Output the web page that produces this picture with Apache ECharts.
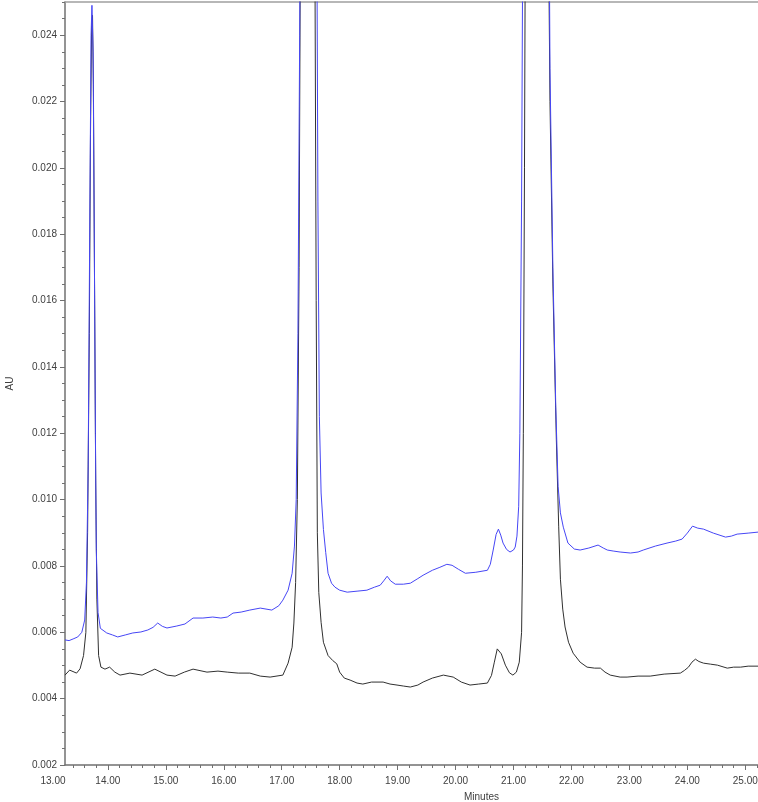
<!DOCTYPE html>
<html>
<head>
<meta charset="utf-8">
<script src="https://cdn.jsdelivr.net/npm/echarts@6/dist/echarts.min.js"></script>
<style>
  html, body { margin: 0; padding: 0; background: #fff; }
  #main { width: 758px; height: 802px; }
</style>
</head>
<body>
<div id="main"></div>
<script>
// x range (minutes) and y range (AU)
const X_MIN = 13.26;
const X_MAX = 25.22;
const Y_MIN = 0.002;
const Y_MAX = 0.025;

// tick labels
const xLabelValues = [X_MIN, 14, 15, 16, 17, 18, 19, 20, 21, 22, 23, 24, 25];
const xLabelTexts = ["13.00", "14.00", "15.00", "16.00", "17.00", "18.00", "19.00", "20.00", "21.00", "22.00", "23.00", "24.00", "25.00"];
const yLabelValues = [0.002, 0.004, 0.006, 0.008, 0.010, 0.012, 0.014, 0.016, 0.018, 0.020, 0.022, 0.024];

// black trace (lower)
const blackTime = [13.26, 13.34, 13.46, 13.52, 13.58, 13.62, 13.65, 13.68, 13.70, 13.72, 13.735, 13.75, 13.77, 13.79, 13.81, 13.84, 13.88, 13.95, 14.03, 14.12, 14.21, 14.38, 14.59, 14.81, 15.02, 15.16, 15.32, 15.47, 15.71, 15.90, 16.06, 16.25, 16.45, 16.63, 16.80, 17.02, 17.11, 17.18, 17.21, 17.24, 17.27, 17.30, 17.32, 17.36, 17.45, 17.53, 17.57, 17.595, 17.615, 17.64, 17.68, 17.72, 17.80, 17.88, 17.95, 18.00, 18.08, 18.18, 18.30, 18.40, 18.55, 18.75, 18.87, 18.99, 19.10, 19.22, 19.35, 19.44, 19.60, 19.79, 19.96, 20.10, 20.25, 20.40, 20.55, 20.62, 20.67, 20.72, 20.75, 20.79, 20.86, 20.93, 20.99, 21.05, 21.10, 21.14, 21.155, 21.17, 21.19, 21.21, 21.30, 21.45, 21.55, 21.59, 21.63, 21.68, 21.74, 21.78, 21.81, 21.85, 21.89, 21.95, 22.03, 22.15, 22.27, 22.40, 22.50, 22.58, 22.67, 22.84, 22.96, 23.15, 23.36, 23.60, 23.88, 23.95, 24.02, 24.08, 24.14, 24.20, 24.28, 24.40, 24.52, 24.69, 24.80, 24.92, 25.05, 25.22];
const blackAU = [0.00471, 0.00486, 0.00477, 0.00490, 0.00530, 0.00600, 0.0090, 0.0150, 0.0210, 0.0243, 0.0246, 0.0225, 0.0165, 0.0105, 0.0070, 0.0053, 0.00495, 0.00489, 0.00495, 0.00480, 0.00471, 0.00477, 0.00471, 0.00489, 0.00471, 0.00468, 0.00480, 0.00489, 0.00480, 0.00483, 0.00480, 0.00477, 0.00477, 0.00468, 0.00465, 0.00471, 0.00507, 0.00555, 0.00628, 0.0075, 0.0100, 0.0170, 0.0260, 0.0420, 0.0600, 0.0420, 0.0280, 0.0160, 0.0090, 0.0072, 0.0063, 0.0057, 0.0053, 0.00515, 0.00505, 0.00480, 0.00462, 0.00456, 0.00447, 0.00444, 0.00450, 0.00450, 0.00444, 0.00441, 0.00438, 0.00435, 0.00441, 0.00450, 0.00462, 0.00471, 0.00465, 0.00450, 0.00441, 0.00444, 0.00447, 0.00470, 0.00510, 0.00550, 0.00555, 0.00535, 0.00501, 0.00478, 0.00471, 0.00480, 0.00510, 0.0060, 0.0080, 0.0120, 0.0200, 0.0300, 0.0600, 0.0750, 0.0500, 0.0300, 0.0220, 0.0165, 0.0118, 0.0092, 0.0076, 0.0067, 0.00616, 0.00570, 0.00537, 0.00510, 0.00495, 0.00492, 0.00492, 0.00480, 0.00471, 0.00465, 0.00465, 0.00468, 0.00468, 0.00474, 0.00477, 0.00485, 0.00495, 0.00510, 0.00519, 0.00512, 0.00507, 0.00504, 0.00501, 0.00492, 0.00495, 0.00495, 0.00498, 0.00498];

// blue trace (upper)
const blueTime = [13.26, 13.33, 13.40, 13.48, 13.55, 13.60, 13.63, 13.66, 13.69, 13.71, 13.725, 13.745, 13.765, 13.785, 13.80, 13.83, 13.87, 13.90, 13.98, 14.08, 14.17, 14.30, 14.43, 14.57, 14.69, 14.78, 14.86, 14.94, 15.02, 15.19, 15.33, 15.47, 15.64, 15.81, 15.95, 16.06, 16.16, 16.30, 16.45, 16.63, 16.83, 16.95, 17.02, 17.11, 17.18, 17.22, 17.25, 17.28, 17.31, 17.35, 17.45, 17.55, 17.60, 17.625, 17.65, 17.68, 17.72, 17.76, 17.80, 17.86, 17.92, 18.00, 18.13, 18.30, 18.47, 18.60, 18.70, 18.76, 18.82, 18.88, 18.96, 19.10, 19.22, 19.35, 19.44, 19.60, 19.73, 19.85, 19.94, 20.05, 20.17, 20.35, 20.55, 20.60, 20.65, 20.70, 20.74, 20.78, 20.82, 20.88, 20.94, 21.00, 21.03, 21.06, 21.09, 21.11, 21.14, 21.16, 21.25, 21.45, 21.56, 21.60, 21.63, 21.68, 21.73, 21.77, 21.81, 21.86, 21.94, 22.05, 22.15, 22.30, 22.46, 22.55, 22.62, 22.72, 22.84, 23.02, 23.15, 23.24, 23.45, 23.65, 23.80, 23.91, 24.00, 24.09, 24.18, 24.28, 24.45, 24.66, 24.76, 24.86, 25.05, 25.22];
const blueAU = [0.00577, 0.00575, 0.00580, 0.00586, 0.00600, 0.00637, 0.0075, 0.0110, 0.0190, 0.0240, 0.0249, 0.0235, 0.0180, 0.0120, 0.0085, 0.0066, 0.00612, 0.00607, 0.00598, 0.00592, 0.00586, 0.00592, 0.00598, 0.00601, 0.00607, 0.00615, 0.00628, 0.00618, 0.00613, 0.00619, 0.00625, 0.00643, 0.00643, 0.00646, 0.00643, 0.00646, 0.00658, 0.00661, 0.00667, 0.00673, 0.00667, 0.00680, 0.00697, 0.00727, 0.00778, 0.00860, 0.0100, 0.0150, 0.0240, 0.0380, 0.0600, 0.0450, 0.0300, 0.0190, 0.0125, 0.0102, 0.0091, 0.0084, 0.00778, 0.00748, 0.00736, 0.00727, 0.00721, 0.00724, 0.00727, 0.00736, 0.00742, 0.00755, 0.00769, 0.00755, 0.00745, 0.00745, 0.00748, 0.00762, 0.00772, 0.00787, 0.00796, 0.00805, 0.00802, 0.00790, 0.00778, 0.00781, 0.00787, 0.00805, 0.00848, 0.00895, 0.00911, 0.00893, 0.00869, 0.00850, 0.00842, 0.00848, 0.00857, 0.00890, 0.0098, 0.0120, 0.0190, 0.0270, 0.0500, 0.0750, 0.0500, 0.0320, 0.0230, 0.0170, 0.0128, 0.0104, 0.0096, 0.00917, 0.00869, 0.00851, 0.00848, 0.00854, 0.00863, 0.00854, 0.00848, 0.00845, 0.00842, 0.00839, 0.00842, 0.00848, 0.00860, 0.00869, 0.00875, 0.00881, 0.00899, 0.00920, 0.00914, 0.00911, 0.00899, 0.00887, 0.00890, 0.00896, 0.00899, 0.00902];

const FONT = "Liberation Sans, Arial, sans-serif";
const AXIS_COLOR = "#707070";
const TEXT_COLOR = "#404040";

// minor tick positions (every 0.2 min / 0.0005 AU)
const xMinor = [];
for (let i = 67; i <= 126; i++) {
  const v = +(i * 0.2).toFixed(2);
  if (v > X_MIN && v < X_MAX && Math.abs(v - Math.round(v)) > 0.01) xMinor.push(v);
}
const yMinor = [];
for (let i = 5; i <= 50; i++) {
  const v = +(i * 0.0005).toFixed(4);
  if (v > Y_MIN && v <= Y_MAX && i % 4 !== 0) yMinor.push(v);
}

const zip = (t, a) => t.map((x, i) => [x, a[i]]);

const chart = echarts.init(document.getElementById("main"));
chart.setOption({
  animation: false,
  backgroundColor: "#fff",
  textStyle: { fontFamily: FONT },
  grid: { left: 65, right: 0, top: 2, bottom: 37, outerBoundsMode: "none", containLabel: false },
  xAxis: [
    {
      type: "value",
      min: X_MIN,
      max: X_MAX,
      position: "bottom",
      name: "Minutes",
      nameLocation: "middle",
      nameGap: 27,
      nameTextStyle: { fontSize: 10, color: TEXT_COLOR, padding: [0, 0, 0, 140] },
      axisLine: { lineStyle: { color: AXIS_COLOR, width: 1.5 } },
      axisTick: { customValues: xLabelValues.slice(1), length: 5, lineStyle: { color: AXIS_COLOR } },
      axisLabel: {
        customValues: xLabelValues,
        margin: 11,
        fontSize: 10,
        color: TEXT_COLOR,
        formatter: function (v) {
          const i = xLabelValues.findIndex(x => Math.abs(x - v) < 1e-6);
          if (i === 0) return "{first|" + xLabelTexts[0] + "}";
          return i >= 0 ? xLabelTexts[i] : "";
        },
        rich: { first: { fontSize: 10, color: TEXT_COLOR, padding: [0, 24, 0, 0] } }
      },
      splitLine: { show: false }
    },
    {
      type: "value",
      min: X_MIN,
      max: X_MAX,
      position: "bottom",
      axisLine: { show: false },
      axisTick: { customValues: xMinor, length: 3, lineStyle: { color: AXIS_COLOR } },
      axisLabel: { show: false },
      splitLine: { show: false }
    },
    {
      type: "value",
      min: X_MIN,
      max: X_MAX,
      position: "top",
      axisLine: { lineStyle: { color: "#a0a0a0", width: 1.5 } },
      axisTick: { show: false },
      axisLabel: { show: false },
      splitLine: { show: false }
    }
  ],
  yAxis: [
    {
      type: "value",
      min: Y_MIN,
      max: Y_MAX,
      position: "left",
      name: "AU",
      nameLocation: "middle",
      nameGap: 50,
      nameTextStyle: { fontSize: 10, color: TEXT_COLOR },
      axisLine: { show: true, lineStyle: { color: AXIS_COLOR, width: 1.5 } },
      axisTick: { show: true, customValues: yLabelValues, length: 5, lineStyle: { color: AXIS_COLOR } },
      axisLabel: {
        customValues: yLabelValues,
        margin: 8,
        fontSize: 10,
        color: TEXT_COLOR,
        formatter: v => v.toFixed(3)
      },
      splitLine: { show: false }
    },
    {
      type: "value",
      min: Y_MIN,
      max: Y_MAX,
      position: "left",
      axisLine: { show: false },
      axisTick: { show: true, customValues: yMinor, length: 3, lineStyle: { color: AXIS_COLOR } },
      axisLabel: { show: false },
      splitLine: { show: false }
    }
  ],
  series: [
    {
      name: "black",
      type: "line",
      xAxisIndex: 0,
      yAxisIndex: 0,
      data: zip(blackTime, blackAU),
      showSymbol: false,
      clip: true,
      lineStyle: { color: "#303030", width: 1 },
      itemStyle: { color: "#303030" }
    },
    {
      name: "blue",
      type: "line",
      xAxisIndex: 0,
      yAxisIndex: 0,
      data: zip(blueTime, blueAU),
      showSymbol: false,
      clip: true,
      lineStyle: { color: "#4646f5", width: 1 },
      itemStyle: { color: "#4646f5" }
    }
  ]
});
</script>
</body>
</html>
